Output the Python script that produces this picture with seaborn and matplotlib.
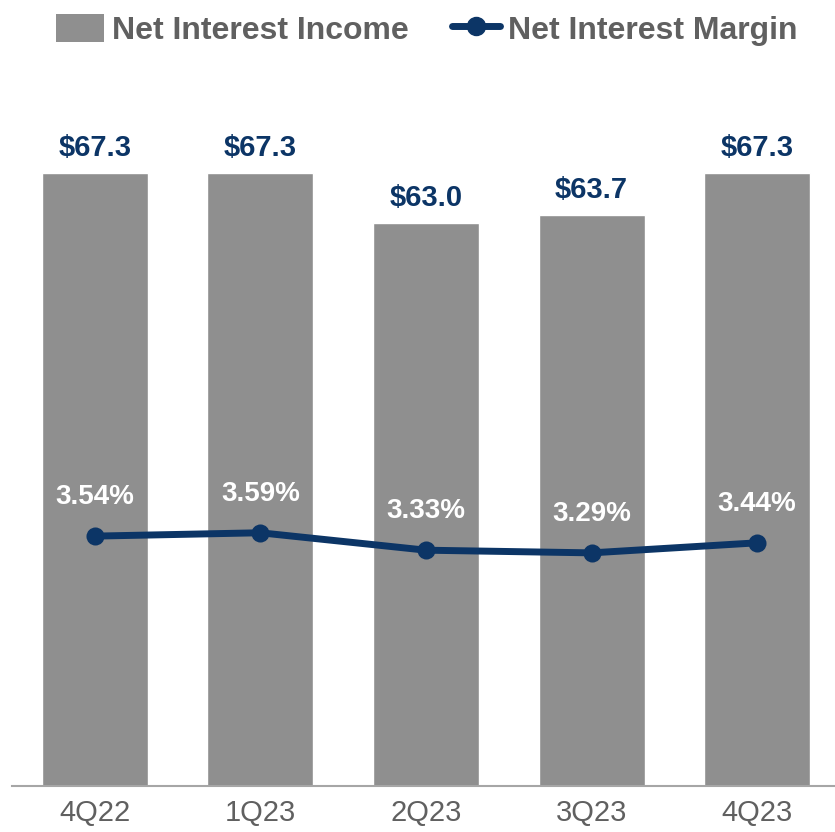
import matplotlib
matplotlib.use("Agg")
import matplotlib.pyplot as plt
from matplotlib.patches import Patch
from matplotlib.lines import Line2D
import numpy as np
import pandas as pd
import seaborn as sns

quarters = ["4Q22", "1Q23", "2Q23", "3Q23", "4Q23"]
nii = [67.3, 67.3, 63.0, 63.7, 67.3]
nim = [3.54, 3.59, 3.33, 3.29, 3.44]

GRAY = "#8f8f8f"
NAVY = "#0c3566"
TXT = "#606060"

sns.set_theme(style="white")
plt.rcParams["font.family"] = ["Liberation Sans", "DejaVu Sans"]

df = pd.DataFrame({"quarter": quarters, "nii": nii, "nim": nim, "pos": np.arange(len(quarters))})

fig = plt.figure(figsize=(8.35, 8.32), dpi=100)
ax = fig.add_axes([12 / 835, 1 - 786 / 832, 1 - 12 / 835, (786 - 100) / 832])

sns.barplot(data=df, x="quarter", y="nii", color=GRAY, saturation=1, width=0.64, ax=ax)
ax.set_ylim(14.6, 73.6)
ax.set_xlim(-0.5, 4.47)

for i, v in enumerate(nii):
    ax.annotate(f"${v:.1f}", (i, v), xytext=(0, 18), textcoords="offset points",
                ha="center", va="center", fontsize=21, fontweight="bold", color=NAVY)

ax2 = ax.twinx()
sns.lineplot(data=df, x="pos", y="nim", color=NAVY, linewidth=5, marker="o",
             markersize=13, markeredgewidth=0, ax=ax2)
ax2.set_ylim(-0.19, 10.05)
ax2.set_xlim(-0.5, 4.47)

for i, v in enumerate(nim):
    ax2.annotate(f"{v:.2f}%", (i, v), xytext=(0, 28), textcoords="offset points",
                 ha="center", va="center", fontsize=20, fontweight="bold", color="white")

for a in (ax, ax2):
    a.set_ylabel("")
    a.set_xlabel("")
    a.set_yticks([])
    for s in ["top", "right", "left"]:
        a.spines[s].set_visible(False)
ax2.spines["bottom"].set_visible(False)
ax.spines["bottom"].set_color("#a6a6a6")
ax.spines["bottom"].set_linewidth(1.5)
ax.tick_params(axis="x", length=0, pad=9, labelsize=21, labelcolor=TXT)

handles = [
    Patch(facecolor=GRAY, edgecolor="none", label="Net Interest Income"),
    Line2D([0], [0], color=NAVY, lw=5, marker="o", markersize=13, label="Net Interest Margin"),
]
leg = fig.legend(handles=handles, loc="upper center", bbox_to_anchor=(0.511, 1.018), ncol=2,
                 frameon=False, handlelength=1.5, handleheight=1.0, handletextpad=0.25,
                 columnspacing=1.35, prop={"size": 23, "weight": "bold"})
for t in leg.get_texts():
    t.set_color(TXT)

fig.savefig("out.png", dpi=100)
